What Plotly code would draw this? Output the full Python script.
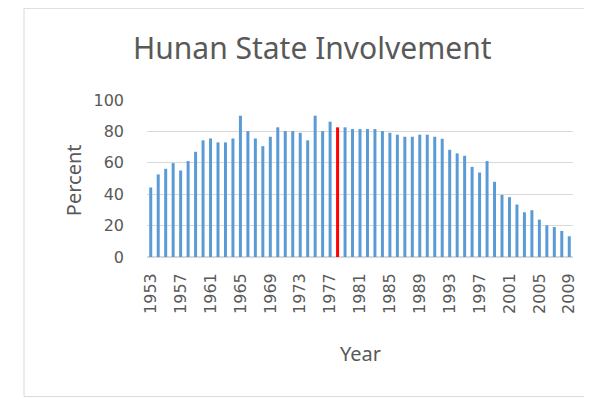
import plotly.graph_objects as go

years = list(range(1953, 2010))
percent = [
    44.3, 52.6, 56.2, 59.8, 55.1, 61.1, 67.0, 74.3, 75.5, 73.0,
    73.0, 75.5, 90.0, 80.2, 75.5, 70.6, 76.6, 82.6, 80.2, 80.2,
    79.1, 74.3, 90.0, 80.2, 86.2, 82.6, 82.6, 81.5, 81.5, 81.5,
    81.5, 80.2, 79.1, 77.9, 76.6, 76.6, 77.9, 77.9, 76.6, 75.3,
    68.3, 66.0, 64.5, 57.4, 53.8, 61.1, 47.9, 39.6, 38.1, 33.4,
    28.5, 29.8, 23.8, 20.2, 19.1, 16.6, 13.2,
]
highlight_year = 1978
colors = ["#FF0000" if y == highlight_year else "#5B9BD5" for y in years]

fig = go.Figure(go.Bar(x=years, y=percent, marker=dict(color=colors, line=dict(width=0)), width=0.4))

OFF = 8  # page body margin
W, H = 592 - OFF, 410 - OFF
px0, px1, py0, py1 = 147 - OFF, 573 - OFF, 100 - OFF, 256.7 - OFF
L, R, T, B = px0, W - px1, py0, H - py1
pw, ph = px1 - px0, py1 - py0

def fx(x):
    return (x - OFF - px0) / pw

def fy(y):
    return (py1 - (y - OFF)) / ph

GRAY = "#595959"
fig.update_layout(
    width=W, height=H,
    margin=dict(l=L, r=R, t=T, b=B),
    paper_bgcolor="white", plot_bgcolor="white",
    font=dict(family="DejaVu Sans", color=GRAY),
    showlegend=False,
    xaxis=dict(
        range=[1952.5, 2009.5], tickmode="linear", tick0=1953, dtick=4,
        tickangle=-90, tickfont=dict(size=16), showgrid=False, showline=False,
        zeroline=False, ticks="", ticklabelstandoff=12,
    ),
    yaxis=dict(
        range=[0, 100], dtick=20, tickfont=dict(size=16), gridcolor="#D9D9D9",
        gridwidth=1, zeroline=True, zerolinecolor="#D9D9D9", showline=False, ticks="",
        ticklabelstandoff=22,
    ),
    annotations=[
        dict(text="Hunan State Involvement", xref="paper", yref="paper",
             x=fx(312), y=fy(48), xanchor="center", yanchor="middle", showarrow=False,
             font=dict(family="Noto Sans", size=30, color=GRAY)),
        dict(text="Percent", xref="paper", yref="paper", textangle=-90,
             x=fx(73), y=fy(180), xanchor="center", yanchor="middle", showarrow=False,
             font=dict(family="Noto Sans", size=20, color=GRAY)),
        dict(text="Year", xref="paper", yref="paper",
             x=fx(360), y=fy(353), xanchor="center", yanchor="middle", showarrow=False,
             font=dict(family="Noto Sans", size=20, color=GRAY)),
    ],
    shapes=[dict(
        type="rect", xref="paper", yref="paper",
        x0=fx(24), x1=fx(588), y0=fy(396), y1=fy(8.5),
        line=dict(color="#D9D9D9", width=1), fillcolor="rgba(0,0,0,0)", layer="below",
    )],
)

fig.write_html("out.html")
